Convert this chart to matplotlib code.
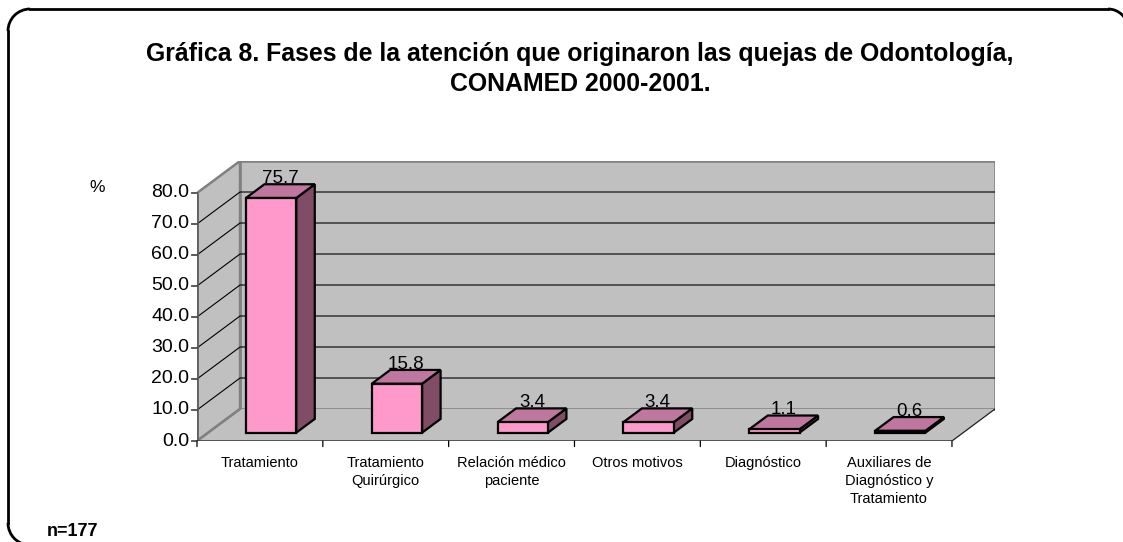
import numpy as np
import matplotlib.pyplot as plt
from matplotlib.patches import Polygon, Arc

plt.rcParams['font.family'] = ['Liberation Sans', 'DejaVu Sans']

# data
categories = ['Tratamiento', 'Tratamiento\nQuirúrgico', 'Relación médico\npaciente',
              'Otros motivos', 'Diagnóstico', 'Auxiliares de\nDiagnóstico y\nTratamiento']
values = [75.7, 15.8, 3.4, 3.4, 1.1, 0.6]
y_ticks = [0, 10, 20, 30, 40, 50, 60, 70, 80]

title = 'Gráfica 8. Fases de la atención que originaron las quejas de Odontología,\nCONAMED 2000-2001.'
note = 'n=177'

# pseudo 3d geometry (in data units)
YMAX = 80.0
DX = 0.342     # depth offset along x, category units
DY = 10.32     # depth offset along y, value units
D0, D1 = 0.26, 0.69   # bar depth span (fraction of the full depth)
BAR_W = 0.40

WALL = '#C0C0C0'
EDGE = '#808080'
FRONT = '#FF99CC'
TOP = '#C0779F'
SIDE = '#804C66'

W, H = 1123, 542
fig = plt.figure(figsize=(W / 100, H / 100), dpi=100)

# rounded frame around the chart, drawn in a pixel overlay (origin bottom-left)
bg = fig.add_axes([0, 0, 1, 1], zorder=-1)
bg.set_xlim(0, W)
bg.set_ylim(0, H)
bg.axis('off')
left, top, right, bottom = 8, H - 9, 1128, -3
r_l, r_r = 22, 20
frame_kw = dict(color='black', lw=2)
bg.add_patch(Arc((left + r_l, top - r_l), 2 * r_l, 2 * r_l, theta1=90, theta2=180, **frame_kw))
bg.add_patch(Arc((left + r_l, bottom + r_l), 2 * r_l, 2 * r_l, theta1=180, theta2=270, **frame_kw))
bg.add_patch(Arc((right - r_r, top - r_r), 2 * r_r, 2 * r_r, theta1=0, theta2=90, **frame_kw))
bg.plot([left, left], [bottom + r_l, top - r_l], **frame_kw)
bg.plot([left + r_l, right - r_r], [top, top], **frame_kw)

n = len(values)
ax = fig.add_axes([197 / W, (H - 441) / H, 798 / W, 280 / H])
ax.set_xlim(0, n + DX)
ax.set_ylim(0, YMAX + DY)
ax.axis('off')

# walls and floor
ax.add_patch(Polygon([(DX, DY), (n + DX, DY), (n + DX, YMAX + DY), (DX, YMAX + DY)],
                     closed=True, fc=WALL, ec=EDGE, lw=1.8, zorder=1))
ax.add_patch(Polygon([(0, 0), (DX, DY), (DX, YMAX + DY), (0, YMAX)],
                     closed=True, fc=WALL, ec=EDGE, lw=1.8, zorder=1))
ax.add_patch(Polygon([(0, 0), (n, 0), (n + DX, DY), (DX, DY)],
                     closed=True, fc=WALL, ec='none', zorder=1))
ax.plot([0, DX], [0, DY], color=EDGE, lw=1.8, zorder=2)
ax.plot([n, n + DX], [0, DY], color='#202020', lw=0.9, zorder=2)

# gridlines on left and back walls
for v in y_ticks[1:-1]:
    ax.plot([0, DX, n + DX], [v, v + DY, v + DY], color='black', lw=0.8, zorder=2)

# front axes
ax.plot([0, 0], [0, YMAX], color='#606060', lw=2, zorder=5, solid_capstyle='butt')
ax.plot([0, n], [0, 0], color='#404040', lw=1.2, zorder=5)
for v in y_ticks:
    ax.annotate('', xy=(0, v), xytext=(-4, 0), textcoords='offset points',
                arrowprops=dict(arrowstyle='-', color='black', lw=0.9,
                                shrinkA=0, shrinkB=0), zorder=5)
    ax.annotate('%.1f' % v, xy=(0, v), xytext=(-5.5, 0), textcoords='offset points',
                ha='right', va='center', fontsize=14)
for i in range(n + 1):
    ax.annotate('', xy=(i, 0), xytext=(0, -4), textcoords='offset points',
                arrowprops=dict(arrowstyle='-', color='black', lw=0.9,
                                shrinkA=0, shrinkB=0), zorder=5)

# bars
for i, v in enumerate(values):
    x0 = i + 0.5 - BAR_W / 2
    x1 = x0 + BAR_W
    fx, fy = D0 * DX, D0 * DY
    bx, by = D1 * DX, D1 * DY
    front = [(x0 + fx, fy), (x1 + fx, fy), (x1 + fx, v + fy), (x0 + fx, v + fy)]
    top_face = [(x0 + fx, v + fy), (x1 + fx, v + fy), (x1 + bx, v + by), (x0 + bx, v + by)]
    side = [(x1 + fx, fy), (x1 + bx, by), (x1 + bx, v + by), (x1 + fx, v + fy)]
    for pts, c in [(side, SIDE), (top_face, TOP), (front, FRONT)]:
        ax.add_patch(Polygon(pts, closed=True, fc=c, ec='black', lw=1.6,
                             joinstyle='miter', zorder=4))
    ax.annotate('%.1f' % v, xy=(i + 0.5 + (D0 + D1) / 2 * DX, v + by),
                xytext=(0, -2), textcoords='offset points',
                ha='center', va='bottom', fontsize=13.5, zorder=6)
    ax.annotate(categories[i], xy=(i + 0.5, 0), xytext=(0, -10.5),
                textcoords='offset points', ha='center', va='top',
                fontsize=10.5, linespacing=1.38)

fig.text(580 / W, 1 - 69 / H, title, ha='center', va='center',
         fontsize=17.9, fontweight='bold', linespacing=1.36)
fig.text(97 / W, 1 - 188 / H, '%', ha='center', va='center', fontsize=12.5)
fig.text(47 / W, 1 - 532 / H, note, ha='left', va='center', fontsize=13,
         fontweight='bold')

fig.savefig('out.png', dpi=100)
